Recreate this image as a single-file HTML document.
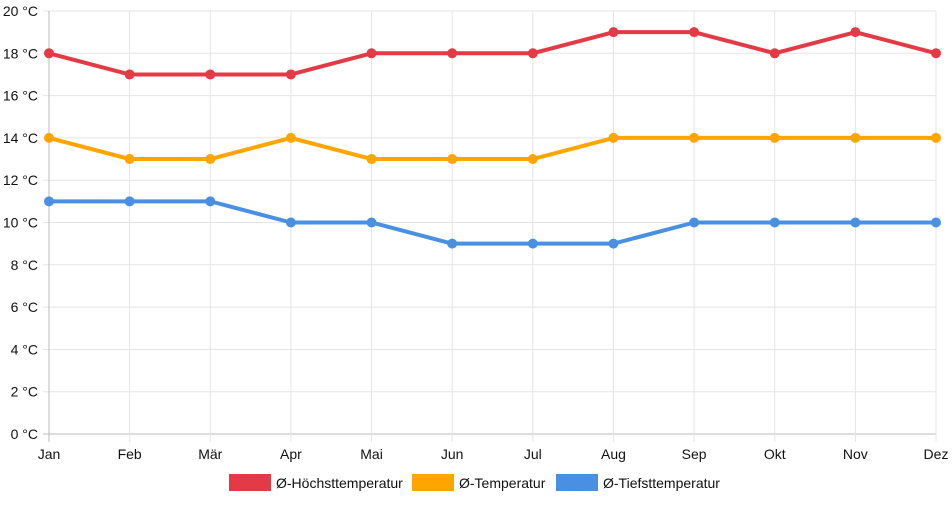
<!DOCTYPE html>
<html><head><meta charset="utf-8"><style>
body{margin:0;background:#fff;font-family:"Liberation Sans",sans-serif}
svg text{font-family:"Liberation Sans",sans-serif;font-size:14px;fill:#111}
</style></head><body>
<svg id="c" width="952" height="500" xmlns="http://www.w3.org/2000/svg"></svg>
<script>
const months=["Jan","Feb","Mär","Apr","Mai","Jun","Jul","Aug","Sep","Okt","Nov","Dez"];
const highs=[18,17,17,17,18,18,18,19,19,18,19,18];
const means=[14,13,13,14,13,13,13,14,14,14,14,14];
const lows=[11,11,11,10,10,9,9,9,10,10,10,10];
const yTicks=[0,2,4,6,8,10,12,14,16,18,20];
const NS="http://www.w3.org/2000/svg";
const svg=document.getElementById('c');
const x0=49,x1=936,y0=434,y1=11,ymax=20;
const xs=i=>x0+i*(x1-x0)/(months.length-1);
const ys=v=>y0-v*(y0-y1)/ymax;
function mk(t,a,p){const e=document.createElementNS(NS,t);for(const k in a)e.setAttribute(k,a[k]);(p||svg).appendChild(e);return e;}
const grid=mk('g',{});


yTicks.forEach(v=>{
  mk('line',{x1:x0-6,x2:x1,y1:ys(v),y2:ys(v),stroke:v===0?'#bbb':'#e5e5e5','stroke-width':1},grid);
  const t=mk('text',{x:38,y:ys(v)+5,'text-anchor':'end'});
  t.textContent=v+' °C';
  
  
});
months.forEach((m,i)=>{
  mk('line',{x1:xs(i),x2:xs(i),y1:y1,y2:y0+8,stroke:i===0?'#bbb':'#e5e5e5','stroke-width':1},grid);
  const t=mk('text',{x:xs(i),y:459,'text-anchor':'middle'});
  t.textContent=m;
  
  
});
function series(data,color,name){
  const g=mk('g',{});
  
  
  mk('polyline',{points:data.map((v,i)=>xs(i)+','+ys(v)).join(' '),fill:'none',stroke:color,'stroke-width':4,'stroke-linejoin':'round'},g);
  data.forEach((v,i)=>{
    const c=mk('circle',{cx:xs(i),cy:ys(v),r:5,fill:color},g);
    
    
  });
}
series(highs,'#e33a45','high-series');
series(means,'#fea500','mean-series');
series(lows,'#4a90e2','low-series');
const leg=[["Ø-Höchsttemperatur",'#e33a45',229],["Ø-Temperatur",'#fea500',412],["Ø-Tiefsttemperatur",'#4a90e2',556]];
leg.forEach(([lbl,col,x])=>{
  const g=mk('g',{});
  
  
  mk('rect',{x:x,y:474,width:42,height:17,fill:col},g);
  const t=mk('text',{x:x+47,y:488},g);t.textContent=lbl;
});
</script>
</body></html>
